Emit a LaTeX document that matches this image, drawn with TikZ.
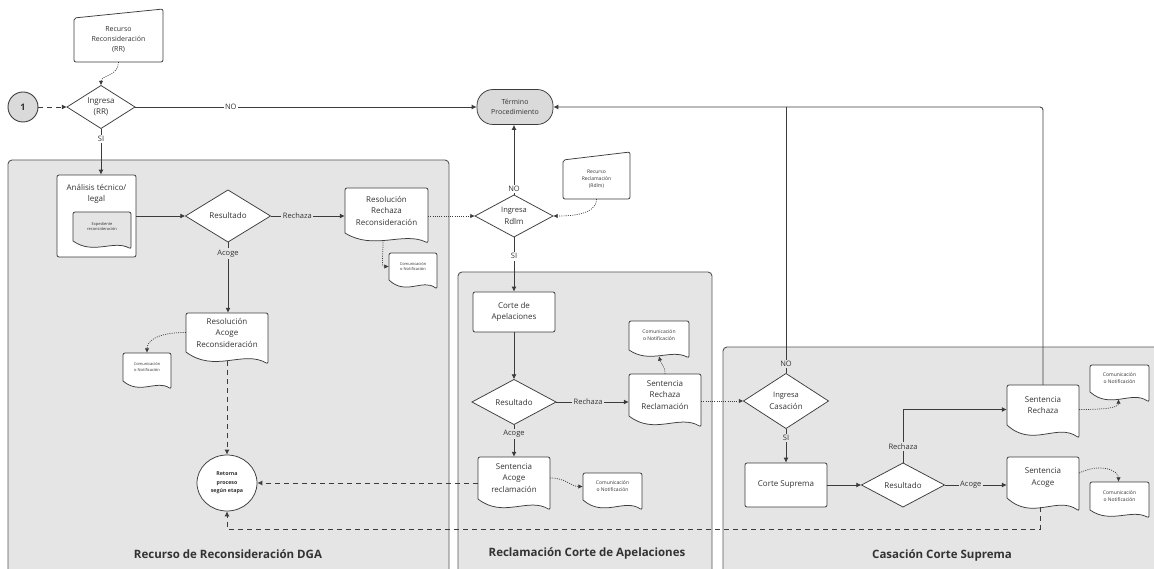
\documentclass[tikz,border=0pt]{standalone}
\usepackage{fontspec}
\setmainfont{Open Sans}
\usetikzlibrary{arrows.meta,shapes.geometric,calc}
\definecolor{panelc}{HTML}{E5E5E5}
\definecolor{linec}{HTML}{3C3C3C}
\definecolor{txtc}{HTML}{333333}
\definecolor{termc}{HTML}{DADADA}
\definecolor{bordc}{HTML}{555555}
\tikzset{
  shapeline/.style={draw=linec, line width=0.75pt},
  txt/.style={text=txtc, align=center, inner sep=0pt, font=\fontsize{8}{11.5}\selectfont},
  smalltxt/.style={text=txtc, align=center, inner sep=0pt, font=\fontsize{7}{10}\selectfont},
  tinytxt/.style={text=txtc, align=center, inner sep=0pt, font=\fontsize{5}{7}\selectfont},
  wee/.style={text=txtc, align=center, inner sep=0pt, font=\fontsize{4}{5.5}\selectfont},
  conn/.style={draw=linec, line width=0.85pt, -{Latex[length=5pt,width=5pt]}},
  plainconn/.style={draw=linec, line width=0.85pt},
  dotconn/.style={draw=linec, line width=0.7pt, dash pattern=on 1pt off 1.2pt, -{Latex[length=4.5pt,width=4.5pt]}},
  dashconn/.style={draw=linec, line width=0.85pt, dash pattern=on 5pt off 4pt, -{Latex[length=5pt,width=5pt]}},
  panel/.style={draw=bordc, fill=panelc, line width=0.9pt, rounded corners=4pt},
  lbl/.style={text=txtc, font=\fontsize{7.5}{9}\selectfont, inner sep=1.5pt, fill=white},
  plbl/.style={lbl, fill=panelc},
  ptitle/.style={text=txtc, font=\fontsize{11.5}{14}\selectfont\bfseries},
}
% diamond: name, cx, cy, w, h, text
\newcommand{\decision}[6]{%
  \filldraw[shapeline, fill=white] ({#2-#4/2},#3) -- (#2,{#3-#5/2}) -- ({#2+#4/2},#3) -- (#2,{#3+#5/2}) -- cycle;
  \node[txt, minimum width=#4pt, minimum height=#5pt] (#1) at (#2,#3) {#6};
}
% document: name, xl, yt, xr, yb, d, fill, node style, text
\newcommand{\docshape}[9]{%
  \pgfmathsetmacro\dsw{#4-#2}%
  \pgfmathsetmacro\dsh{#5-#3}%
  \filldraw[shapeline, fill=#7] (#2,#5) [rounded corners=2pt] -- (#2,#3) -- (#4,#3) -- (#4,{#5+#6}) [sharp corners]
     .. controls ({#2+0.7*\dsw},{#5-0.2*#6}) and ({#2+0.35*\dsw},{#5+1.8*#6}) .. (#2,#5) -- cycle;
  \node[#8, minimum width=\dsw pt, minimum height=\dsh pt] (#1) at ({(#2+#4)/2},{(#3+#5)/2}) {#9};
}
% manual input: name, xl, xr, ytl, ytr, yb, node style, text
\newcommand{\maninput}[8]{%
  \pgfmathsetmacro\dsw{#3-#2}%
  \pgfmathsetmacro\dsh{#6-#4}%
  \filldraw[shapeline, fill=white, rounded corners=2pt] (#2,#4) -- (#3,#5) -- (#3,#6) -- (#2,#6) -- cycle;
  \node[#7, minimum width=\dsw pt, minimum height=\dsh pt] (#1) at ({(#2+#3)/2},{(#4+#6)/2}) {#8};
}
\begin{document}
\begin{tikzpicture}[x=1pt,y=-1pt]
\useasboundingbox (0,0) rectangle (1154,569);
\clip (0,0) rectangle (1154,569);
\fill[white] (0,0) rectangle (1154,569);

% panels
\draw[panel] (8,160) rectangle (449,600);
\draw[panel] (458,272) rectangle (712,600);
\draw[panel] (723,347) rectangle (1175,600);
\node[ptitle] at (228,554) {Recurso de Reconsideración DGA};
\node[ptitle] at (587,553) {Reclamación Corte de Apelaciones};
\node[ptitle] at (942,555) {Casación Corte Suprema};

% top area
\node[circle, draw=linec, line width=0.9pt, fill=termc, minimum size=30pt, inner sep=0pt,
      font=\fontsize{9}{10}\selectfont\bfseries, text=txtc] (c1) at (23,107) {1};
\decision{ing1}{101}{107}{68}{43}{Ingresa\\(RR)}
\maninput{rr}{74}{163}{18}{9}{62}{smalltxt}{Recurso\\Reconsideración\\(RR)}
\node[draw=linec, line width=0.75pt, fill=termc, rounded corners=16pt, minimum width=76pt,
      minimum height=35pt, inner sep=0pt, align=center, text=txtc,
      font=\fontsize{7}{10}\selectfont] (term) at (515,107) {Término\\Procedimiento};

% panel 1
\node[draw=linec, line width=0.75pt, fill=white, rounded corners=2pt, minimum width=79pt,
      minimum height=82pt, inner sep=0pt] (ana) at (96.5,216) {};
\node[txt] at (96.5,194) {Análisis técnico/\\legal};
\docshape{exp}{73}{212}{131}{241}{8}{panelc}{wee}{Expediente\\reconsideración}
\decision{res1}{228}{216}{85}{52}{Resultado}
\docshape{rrc}{345}{188}{428}{233}{10}{white}{txt}{Resolución\\Rechaza\\Reconsideración}
\docshape{com1}{389}{253}{437}{280}{9}{white}{wee}{Comunicación\\o Notificación}
\docshape{rac}{186}{313}{268}{352}{12}{white}{txt}{Resolución\\Acoge\\Reconsideración}
\docshape{com2}{123}{353}{171}{381}{8}{white}{wee}{Comunicación\\o Notificación}
\node[ellipse, draw=linec, line width=0.75pt, fill=white, minimum width=60pt, minimum height=56pt,
      inner sep=0pt, align=center, font=\fontsize{5.3}{8.5}\selectfont\bfseries, text=txtc]
      (ret) at (227,483) {Retorna\\proceso\\según etapa};

% between
\decision{ingR}{514}{216}{78}{42}{\fontsize{7.5}{10}\selectfont Ingresa\\Rdlm}
\maninput{rdlm}{563}{630}{160}{152}{199}{tinytxt}{Recurso\\Reclamación\\(Rdlm)}

% panel 2
\node[draw=linec, line width=0.75pt, fill=white, rounded corners=2pt, minimum width=82pt,
      minimum height=40pt, inner sep=0pt, txt] (corA) at (514,312) {Corte de\\Apelaciones};
\decision{res2}{514}{402}{84}{45}{Resultado}
\docshape{srr}{629}{374}{701}{416}{11}{white}{txt}{Sentencia\\Rechaza\\Reclamación}
\docshape{com3}{629}{321}{689}{350}{8}{white}{tinytxt}{Comunicación\\o Notificación}
\docshape{sar}{478}{457}{550}{499}{11}{white}{txt}{Sentencia\\Acoge\\reclamación}
\docshape{com4}{583}{473}{642}{500}{10}{white}{tinytxt}{Comunicación\\o Notificación}

% panel 3
\decision{ingC}{786}{401}{85}{55}{\fontsize{7.5}{10}\selectfont Ingresa\\Casación}
\node[draw=linec, line width=0.75pt, fill=white, rounded corners=2pt, minimum width=82pt,
      minimum height=44pt, inner sep=0pt, txt] (cs) at (786,485) {Corte Suprema};
\decision{res3}{903}{485}{83}{44}{Resultado}
\docshape{srj}{1007}{385}{1079}{425}{13}{white}{txt}{Sentencia\\Rechaza}
\docshape{sac}{1007}{457}{1079}{498}{13}{white}{txt}{Sentencia\\Acoge}
\docshape{com5}{1090}{365}{1149}{392}{10}{white}{tinytxt}{Comunicación\\o Notificación}
\docshape{com6}{1090}{482}{1149}{510}{8}{white}{tinytxt}{Comunicación\\o Notificación}

% connectors - top
\draw[dashconn] (c1) -- (ing1.west);
\draw[dotconn] (rr.south) .. controls +(0,14) and +(0,-10) .. (ing1.north);
\draw[conn] (ing1.east) -- (term.west) node[lbl, pos=0.28] {NO};
\draw[conn] (ing1.south) -- (ing1.south |- ana.north) node[lbl, pos=0.22] {SI};

% panel 1
\draw[conn] (ana.east |- res1.west) -- (res1.west);
\draw[conn] (res1.east) -- (rrc.west |- res1.east) node[plbl, pos=0.36] {Rechaza};
\draw[dotconn] (rrc.east |- ingR.west) -- (ingR.west);
\draw[dotconn] ([xshift=-3.5pt,yshift=-7pt]rrc.south) .. controls +(0,20) and +(-8,0) .. (com1.west);
\draw[conn] (res1.south) -- (res1.south |- rac.north) node[plbl, pos=0.16] {Acoge};
\draw[dotconn] (rac.west) .. controls +(-32,0) and +(0,-10) .. (com2.north);
\draw[dashconn] ([yshift=-9pt]rac.south) -- (ret.north);

% Rdlm
\draw[dotconn] (rdlm.south) .. controls +(0,16) and +(16,0) .. (ingR.east);
\draw[conn] (ingR.north) -- (ingR.north |- term.south) node[lbl, pos=0.08] {NO};
\draw[conn] (ingR.south) -- (ingR.south |- corA.north) node[lbl, pos=0.35] {SI};

% panel 2
\draw[conn] (corA.south) -- (res2.north);
\draw[conn] (res2.east) -- (srr.west |- res2.east) node[plbl, pos=0.44] {Rechaza};
\draw[dotconn] (srr.north) .. controls +(0,-8) and +(2,8) .. ([yshift=-6pt]com3.south);
\draw[dotconn] (srr.east |- ingC.west) -- (ingC.west);
\draw[conn] (res2.south) -- (sar.north) node[plbl, pos=0.28] {Acoge};
\draw[dotconn] (sar.east) .. controls +(16,0) and +(-12,0) .. (com4.west);
\draw[dashconn] (sar.west |- ret.east) -- (ret.east);

% panel 3
\draw[plainconn] (ingC.north) -- (ingC.north |- term.east);
\node[plbl] at (786,364) {NO};
\draw[conn] (ingC.south) -- (cs.north) node[plbl, pos=0.28] {SI};
\draw[conn] (cs.east) -- (res3.west);
\draw[conn] (res3.north) |- ([yshift=-4.5pt]srj.west) node[plbl, pos=0.15] {Rechaza};
\draw[conn] (res3.east) -- (sac.west |- res3.east) node[plbl, pos=0.42] {Acoge};
\draw[conn, rounded corners=3pt] (srj.north) |- (term.east);
\draw[dotconn] ([yshift=-4.5pt]srj.east) .. controls +(30,0) and +(0,8) .. ([xshift=-1pt,yshift=-7pt]com5.south);
\draw[dotconn] ([yshift=4.5pt]sac.east) .. controls +(20,-10) and +(0,-12) .. ([xshift=-1pt]com6.north);
\coordinate (dl) at (0,529);
\draw[dashconn] ([xshift=-3pt,yshift=-9pt]sac.south) |- (ret.south |- dl) -- (ret.south);
\end{tikzpicture}
\end{document}
